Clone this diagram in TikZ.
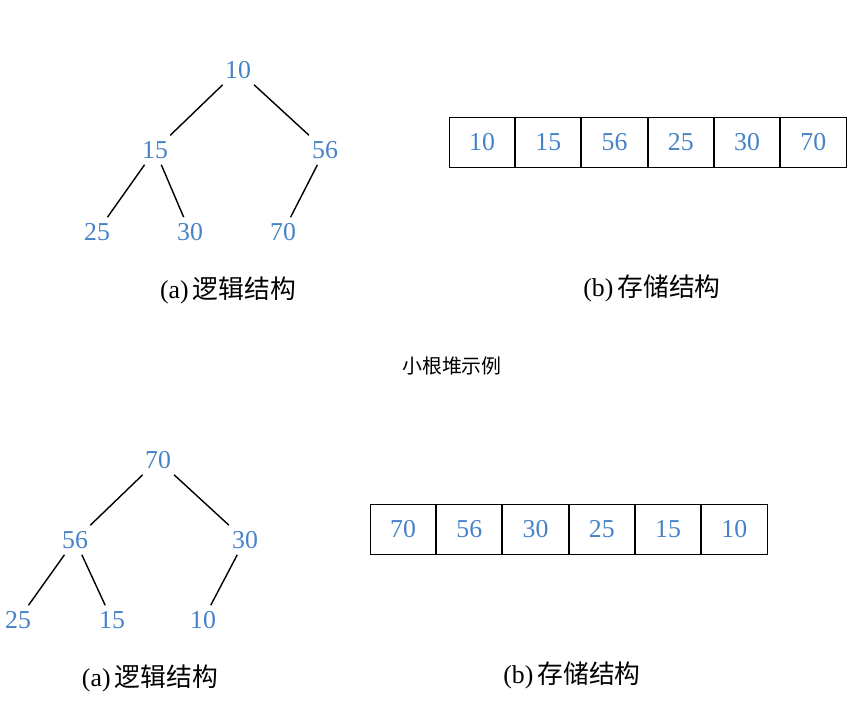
\documentclass[tikz,border=0pt]{standalone}
\usepackage{fontspec}
\setmainfont{Liberation Serif}
\newfontfamily\cjk{Noto Sans CJK SC}
\usetikzlibrary{positioning}
\definecolor{numblue}{RGB}{70,130,200}
\begin{document}
\begin{tikzpicture}[x=0.03cm,y=-0.03cm]
	\tikzstyle {num} = [text=numblue, font=\fontsize{22}{24}\selectfont, inner sep=5pt]
	\tikzstyle {cell} = [num, draw=black, thick, minimum width=1.96cm, minimum height=1.5cm, inner sep=0pt]
	\tikzstyle {edge} = [line width=1.2pt]
	\tikzstyle {label} = [font=\fontsize{22}{24}\selectfont]

	\useasboundingbox (0,0) rectangle (864,725);

	% small root heap
	\node[num] (t1) at (238,70) {10};
	\node[num] (t2) at (155,150) {15};
	\node[num] (t3) at (325,150) {56};
	\node[num] (t4) at (97,232) {25};
	\node[num] (t5) at (190,232) {30};
	\node[num] (t6) at (283,232) {70};
	\draw[edge] (t1) -- (t2);
	\draw[edge] (t1) -- (t3);
	\draw[edge] (t2) -- (t4);
	\draw[edge] (t2) -- (t5);
	\draw[edge] (t3) -- (t6);
	\node[label] (ta) at (228,290) {(a)\,{\cjk 逻辑结构}};

	\node[cell] (ta1) at (482,142) {10};
	\node[cell, right=0pt of ta1] (ta2) {15};
	\node[cell, right=0pt of ta2] (ta3) {56};
	\node[cell, right=0pt of ta3] (ta4) {25};
	\node[cell, right=0pt of ta4] (ta5) {30};
	\node[cell, right=0pt of ta5] (ta6) {70};
	\node[label] (tb) at (652,288) {(b)\,{\cjk 存储结构}};

	\node[font=\fontsize{17}{19}\selectfont\cjk] (cap1) at (452,366) {小根堆示例};

	% big root heap
	\node[num] (b1) at (158,460) {70};
	\node[num] (b2) at (75,540) {56};
	\node[num] (b3) at (245,540) {30};
	\node[num] (b4) at (18,620) {25};
	\node[num] (b5) at (112,620) {15};
	\node[num] (b6) at (203,620) {10};
	\draw[edge] (b1) -- (b2);
	\draw[edge] (b1) -- (b3);
	\draw[edge] (b2) -- (b4);
	\draw[edge] (b2) -- (b5);
	\draw[edge] (b3) -- (b6);
	\node[label] (ba) at (150,678) {(a)\,{\cjk 逻辑结构}};

	\node[cell] (ba1) at (403,529) {70};
	\node[cell, right=0pt of ba1] (ba2) {56};
	\node[cell, right=0pt of ba2] (ba3) {30};
	\node[cell, right=0pt of ba3] (ba4) {25};
	\node[cell, right=0pt of ba4] (ba5) {15};
	\node[cell, right=0pt of ba5] (ba6) {10};
	\node[label] (bb) at (572,675) {(b)\,{\cjk 存储结构}};
\end{tikzpicture}
\end{document}
